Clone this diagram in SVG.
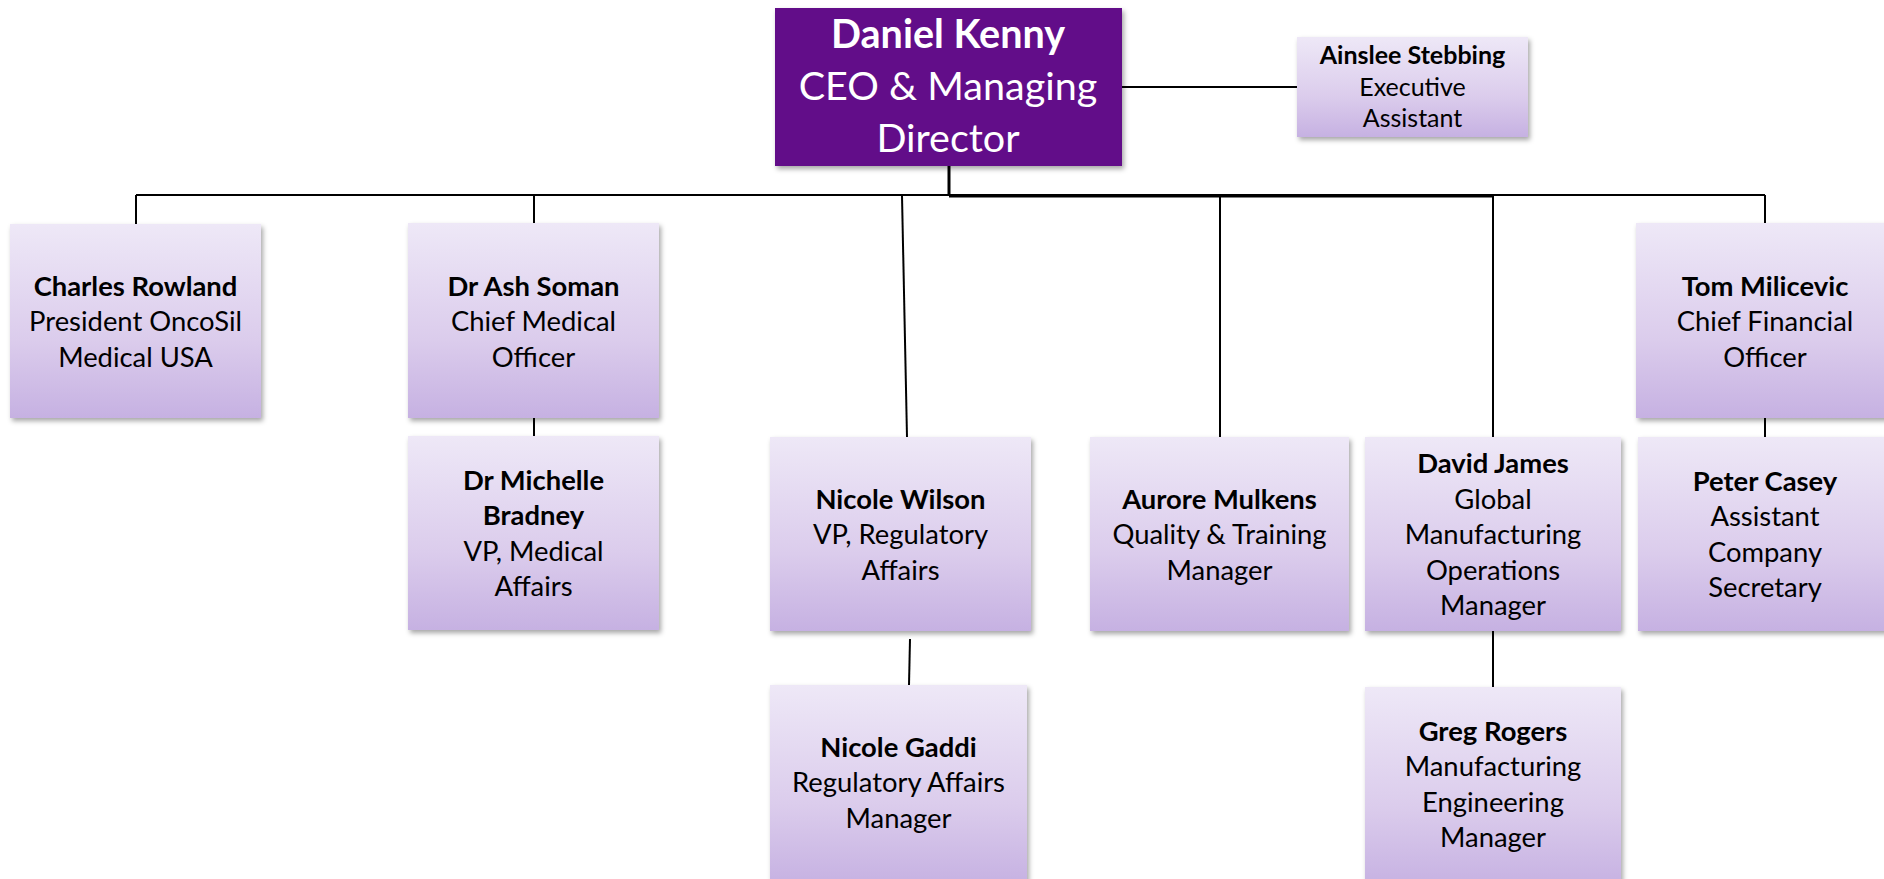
<svg xmlns="http://www.w3.org/2000/svg" width="1884" height="879" viewBox="0 0 1884 879">
<defs>
<linearGradient id="g" x1="0" y1="0" x2="0" y2="1">
<stop offset="0" stop-color="#EEE8F7"/>
<stop offset="0.6" stop-color="#DBCCEC"/>
<stop offset="1" stop-color="#C6B1E2"/>
</linearGradient>
<filter id="sh" x="-10%" y="-10%" width="125%" height="125%">
<feDropShadow dx="2" dy="3" stdDeviation="2.5" flood-color="#000" flood-opacity="0.35"/>
</filter>
</defs>
<style>
.box{fill:url(#g);filter:url(#sh);}
.ceo{fill:#620789;filter:url(#sh);}
.t{font-family:Lato,"Liberation Sans",sans-serif;font-size:27.4px;fill:#000;text-anchor:middle;}
.ts{font-family:Lato,"Liberation Sans",sans-serif;font-size:25px;fill:#000;text-anchor:middle;}
.tc{font-family:Lato,"Liberation Sans",sans-serif;font-size:39.5px;fill:#fff;text-anchor:middle;}
.b{font-weight:bold;}
.c line{stroke:#000;stroke-width:2;fill:none;}
</style>
<rect width="1884" height="879" fill="#fff"/>
<g class="c" id="connectors">
<line x1="1122" y1="87" x2="1297" y2="87"/>
<line x1="949" y1="166" x2="949" y2="196" style="stroke-width:3"/>
<line x1="136" y1="195" x2="1765" y2="195"/>
<line x1="949" y1="196.5" x2="1493" y2="196.5"/>
<line x1="136" y1="195" x2="136" y2="224"/>
<line x1="534" y1="195" x2="534" y2="223"/>
<line x1="534" y1="418" x2="534" y2="436"/>
<line x1="902" y1="196" x2="907" y2="437"/>
<line x1="1220" y1="196" x2="1220" y2="437"/>
<line x1="1493" y1="196" x2="1493" y2="437"/>
<line x1="1765" y1="195" x2="1765" y2="223"/>
<line x1="1765" y1="418" x2="1765" y2="437"/>
<line x1="910" y1="639" x2="909" y2="685"/>
<line x1="1493" y1="631" x2="1493" y2="687"/>
</g>
<g id="ceo">
<rect class="ceo" x="775" y="8" width="347" height="158"/>
<text class="tc"><tspan class="b" x="948" y="48">Daniel Kenny</tspan><tspan x="948" y="100">CEO &amp; Managing</tspan><tspan x="948" y="152">Director</tspan></text>
</g>
<g id="ainslee">
<rect class="box" x="1297" y="37" width="231" height="100"/>
<text class="ts"><tspan class="b" x="1412.5" y="64">Ainslee Stebbing</tspan><tspan x="1412.5" y="96">Executive</tspan><tspan x="1412.5" y="127">Assistant</tspan></text>
</g>
<g id="charles">
<rect class="box" x="10" y="224" width="251" height="194"/>
<text class="t"><tspan class="b" x="135.5" y="295.5">Charles Rowland</tspan><tspan x="135.5" y="331">President OncoSil</tspan><tspan x="135.5" y="366.5">Medical USA</tspan></text>
</g>
<g id="ash">
<rect class="box" x="408" y="223" width="251" height="195"/>
<text class="t"><tspan class="b" x="533.5" y="295.5">Dr Ash Soman</tspan><tspan x="533.5" y="331">Chief Medical</tspan><tspan x="533.5" y="366.5">Officer</tspan></text>
</g>
<g id="tom">
<rect class="box" x="1636" y="223" width="258" height="195"/>
<text class="t"><tspan class="b" x="1765" y="295.5">Tom Milicevic</tspan><tspan x="1765" y="331">Chief Financial</tspan><tspan x="1765" y="366.5">Officer</tspan></text>
</g>
<g id="michelle">
<rect class="box" x="408" y="436" width="251" height="194"/>
<text class="t"><tspan class="b" x="533.5" y="489.75">Dr Michelle</tspan><tspan class="b" x="533.5" y="525.25">Bradney</tspan><tspan x="533.5" y="560.75">VP, Medical</tspan><tspan x="533.5" y="596.25">Affairs</tspan></text>
</g>
<g id="nicole-wilson">
<rect class="box" x="770" y="437" width="261" height="194"/>
<text class="t"><tspan class="b" x="900.5" y="508.5">Nicole Wilson</tspan><tspan x="900.5" y="544">VP, Regulatory</tspan><tspan x="900.5" y="579.5">Affairs</tspan></text>
</g>
<g id="aurore">
<rect class="box" x="1090" y="437" width="259" height="194"/>
<text class="t"><tspan class="b" x="1219.5" y="508.5">Aurore Mulkens</tspan><tspan x="1219.5" y="544">Quality &amp; Training</tspan><tspan x="1219.5" y="579.5">Manager</tspan></text>
</g>
<g id="david">
<rect class="box" x="1365" y="437" width="256" height="194"/>
<text class="t"><tspan class="b" x="1493" y="473">David James</tspan><tspan x="1493" y="508.5">Global</tspan><tspan x="1493" y="544">Manufacturing</tspan><tspan x="1493" y="579.5">Operations</tspan><tspan x="1493" y="615">Manager</tspan></text>
</g>
<g id="peter">
<rect class="box" x="1638" y="437" width="256" height="194"/>
<text class="t"><tspan class="b" x="1765" y="490.75">Peter Casey</tspan><tspan x="1765" y="526.25">Assistant</tspan><tspan x="1765" y="561.75">Company</tspan><tspan x="1765" y="597.25">Secretary</tspan></text>
</g>
<g id="gaddi">
<rect class="box" x="770" y="685" width="257" height="200"/>
<text class="t"><tspan class="b" x="898.5" y="756.5">Nicole Gaddi</tspan><tspan x="898.5" y="792">Regulatory Affairs</tspan><tspan x="898.5" y="827.5">Manager</tspan></text>
</g>
<g id="greg">
<rect class="box" x="1365" y="687" width="256" height="200"/>
<text class="t"><tspan class="b" x="1493" y="740.75">Greg Rogers</tspan><tspan x="1493" y="776.25">Manufacturing</tspan><tspan x="1493" y="811.75">Engineering</tspan><tspan x="1493" y="847.25">Manager</tspan></text>
</g>
</svg>
